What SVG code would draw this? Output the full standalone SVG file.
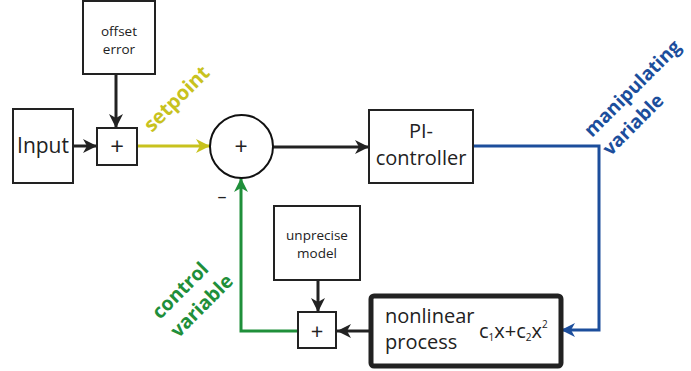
<svg xmlns="http://www.w3.org/2000/svg" width="691" height="371" viewBox="0 0 691 371">
<style>
.box{fill:#fff;stroke:#222;stroke-width:2}
.t{font-family:"Open Sans","Noto Sans",sans-serif;fill:#222}
.lbl{font-family:"Open Sans","Noto Sans",sans-serif;font-weight:bold}
.k{fill:none;stroke:#222;stroke-width:3}
</style>
<defs>
<marker id="ak" markerUnits="userSpaceOnUse" markerWidth="16" markerHeight="14" refX="14" refY="7" orient="auto"><path d="M0,0 L14,7 L0,14 L4,7 z" fill="#222"/></marker>
<marker id="ay" markerUnits="userSpaceOnUse" markerWidth="16" markerHeight="14" refX="14" refY="7" orient="auto"><path d="M0,0 L14,7 L0,14 L4,7 z" fill="#c8c21e"/></marker>
<marker id="ab" markerUnits="userSpaceOnUse" markerWidth="16" markerHeight="14" refX="14" refY="7" orient="auto"><path d="M0,0 L14,7 L0,14 L4,7 z" fill="#1c4e9c"/></marker>
<marker id="ag" markerUnits="userSpaceOnUse" markerWidth="16" markerHeight="14" refX="14" refY="7" orient="auto"><path d="M0,0 L14,7 L0,14 L4,7 z" fill="#1f8f3a"/></marker>
</defs>
<g id="connectors">
<path class="k" d="M73,146 H97" marker-end="url(#ak)"/>
<path class="k" d="M116,74 V128" marker-end="url(#ak)"/>
<path d="M137,146 H210" fill="none" stroke="#c8c21e" stroke-width="3" marker-end="url(#ay)"/>
<path class="k" d="M273,147 H369" marker-end="url(#ak)"/>
<path d="M473,146 H599 V330 H561" fill="none" stroke="#1c4e9c" stroke-width="3" marker-end="url(#ab)"/>
<path class="k" d="M369,331 H337" marker-end="url(#ak)"/>
<path class="k" d="M318,280 V312" marker-end="url(#ak)"/>
<path d="M298,331 H241 V178" fill="none" stroke="#1f8f3a" stroke-width="3" marker-end="url(#ag)"/>
</g>
<g id="offset-error"><rect class="box" x="83" y="1" width="72" height="73"/><text class="t" x="119" y="36" font-size="13.5" text-anchor="middle">offset</text><text class="t" x="119" y="54" font-size="13.5" text-anchor="middle">error</text></g>
<g id="input"><rect class="box" x="13" y="109" width="60" height="74"/><text class="t" x="43" y="153" font-size="21" text-anchor="middle">Input</text></g>
<g id="sum1"><rect class="box" x="97" y="128" width="40" height="37"/><text class="t" x="117" y="155" font-size="24" text-anchor="middle">+</text></g>
<g id="sum-main"><circle cx="241.5" cy="146.5" r="31.5" fill="#fff" stroke="#111" stroke-width="2"/><text class="t" x="241" y="155" font-size="23" text-anchor="middle">+</text><text class="t" x="222" y="203" font-size="18" text-anchor="middle">–</text></g>
<g id="pi-controller"><rect class="box" x="369" y="110" width="104" height="73"/><text class="t" x="421" y="138" font-size="20" text-anchor="middle">PI-</text><text class="t" x="421" y="165" font-size="20" text-anchor="middle">controller</text></g>
<g id="unprecise-model"><rect class="box" x="274" y="206" width="86" height="74"/><text class="t" x="317" y="240" font-size="13.5" text-anchor="middle">unprecise</text><text class="t" x="317" y="258" font-size="13.5" text-anchor="middle">model</text></g>
<g id="sum2"><rect class="box" x="298" y="312" width="38" height="36"/><text class="t" x="317" y="339" font-size="22" text-anchor="middle" fill="#333">+</text></g>
<g id="nonlinear-process"><rect x="371" y="296" width="190" height="70" rx="3" fill="#fff" stroke="#222" stroke-width="5"/><text class="t" x="385" y="323" font-size="20">nonlinear</text><text class="t" x="385" y="349" font-size="20">process</text><text class="t" x="479" y="338" font-size="20">c<tspan font-size="10" dy="3">1</tspan><tspan dy="-3">x+c</tspan><tspan font-size="10" dy="3">2</tspan><tspan dy="-3">x</tspan><tspan font-size="10" dy="-10">2</tspan></text></g>
<g id="labels">
<text class="lbl" fill="#c8c21e" font-size="20" transform="translate(152,133) rotate(-45)">setpoint</text>
<text class="lbl" fill="#1c4e9c" font-size="19" transform="translate(592,138) rotate(-45)"><tspan x="0" y="0">manipulating</tspan><tspan x="0" y="26">variable</tspan></text>
<text class="lbl" fill="#1f8f3a" font-size="19.5" transform="translate(160,320) rotate(-45)"><tspan x="0" y="0">control</tspan><tspan x="0" y="26">variable</tspan></text>
</g>
</svg>
